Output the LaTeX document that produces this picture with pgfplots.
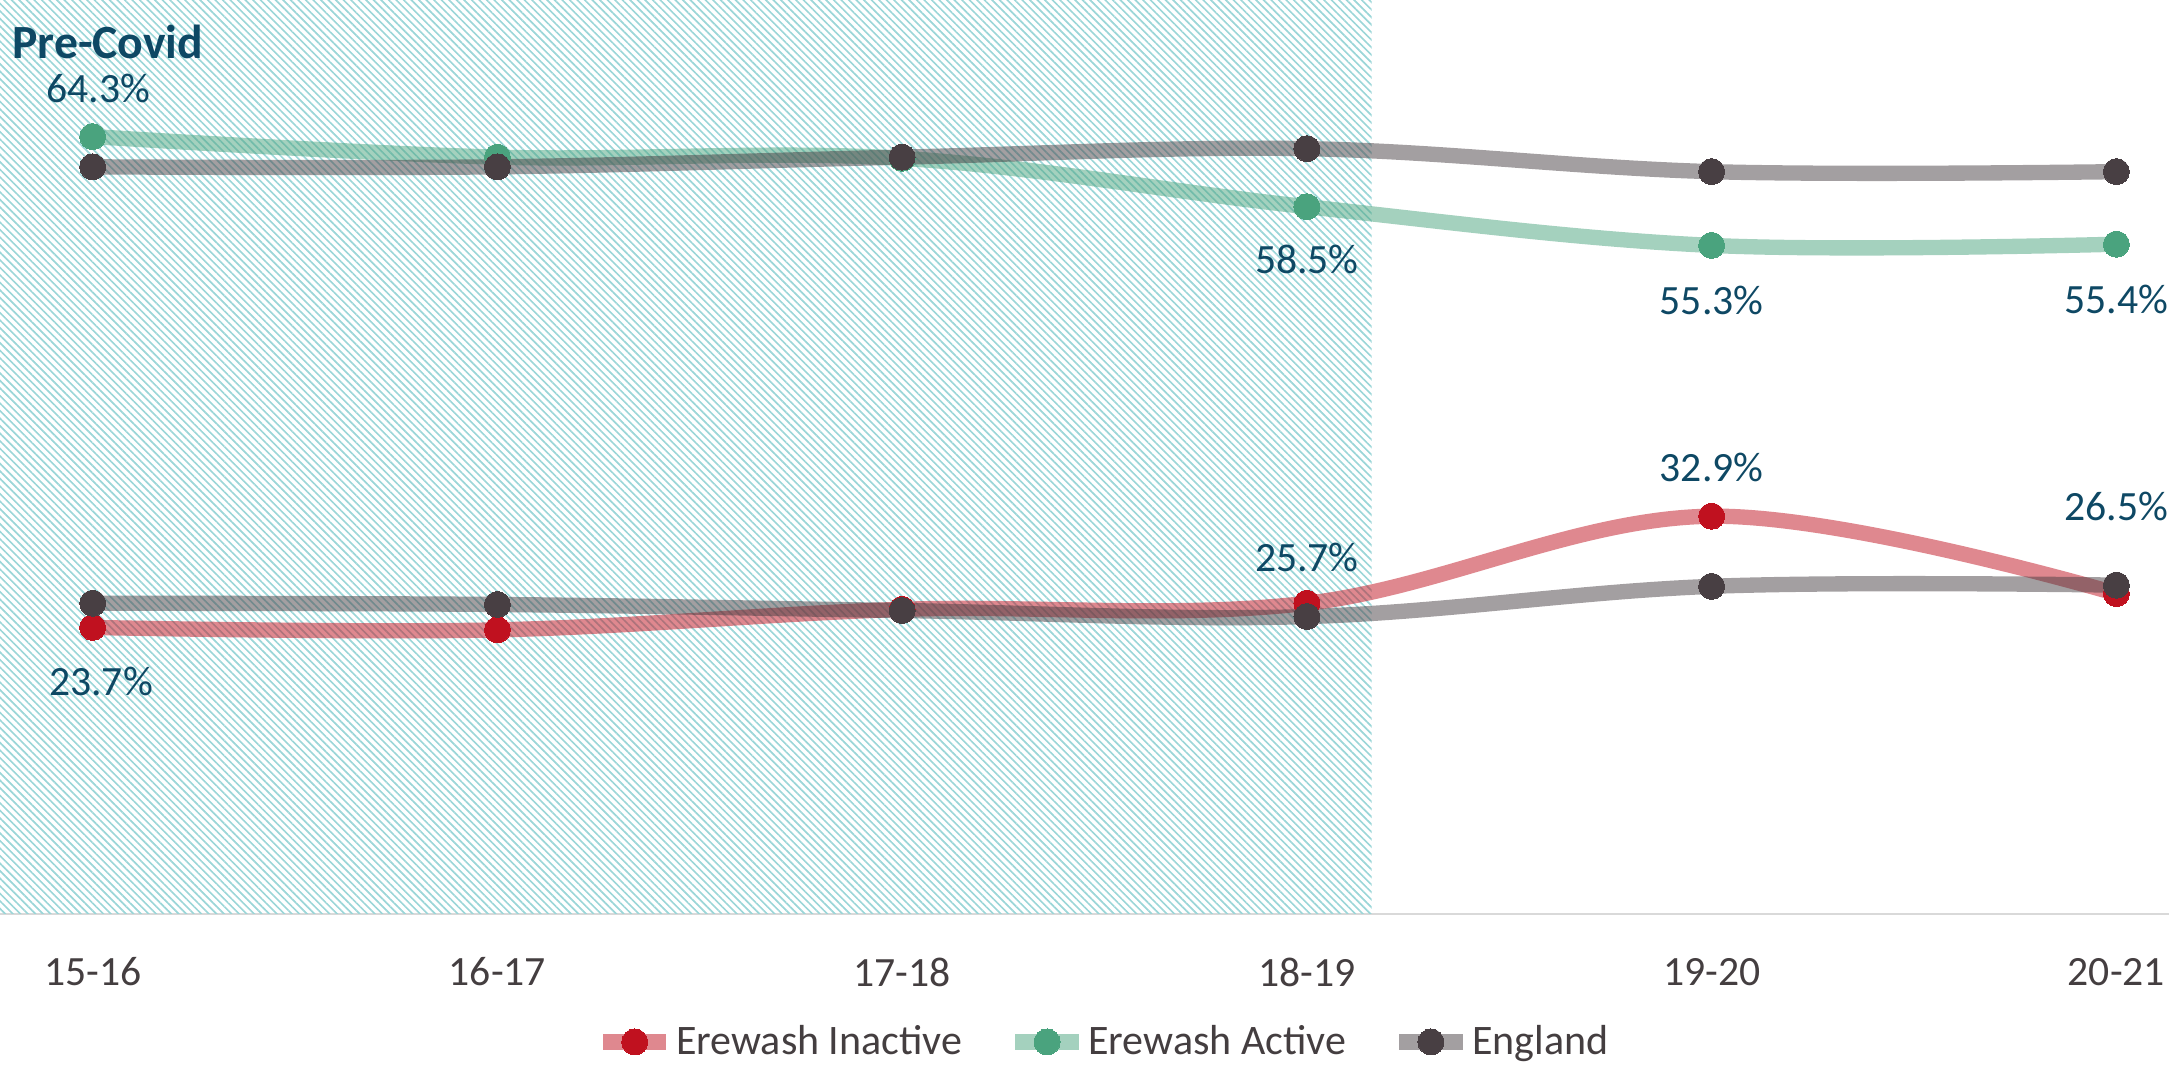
\documentclass[border=0pt]{standalone}
\usepackage{pgfplots}
\pgfplotsset{compat=1.18}
\usepackage{fontspec}
\setmainfont{Carlito}
\usetikzlibrary{patterns.meta}

\definecolor{redM}{RGB}{192,17,31}
\definecolor{greenM}{RGB}{74,163,126}
\definecolor{greyM}{RGB}{72,63,67}
\definecolor{lblcol}{RGB}{14,72,100}
\definecolor{tickcol}{RGB}{68,62,64}
\definecolor{axiscol}{RGB}{217,217,217}
\definecolor{hatchcol}{RGB}{155,214,216}

\begin{document}
\begin{tikzpicture}
\begin{axis}[
  at={(0,0)}, anchor=south west,
  scale only axis,
  width=650.7pt, height=274.2pt,
  xmin=-0.229, xmax=5.13,
  ymin=0, ymax=75.6,
  clip=false,
  axis x line=bottom, axis y line=none,
  x axis line style={-, draw=axiscol, line width=0.8pt},
  xtick={0,1,2,3,4,5},
  xticklabels={15-16,16-17,17-18,18-19,19-20,20-21},
  major tick length=0pt,
  xticklabel style={anchor=center, yshift=-17.4pt, text=tickcol,
    font=\fontsize{12.5}{14}\selectfont},
  legend columns=3,
  legend style={at={(0.5085,-0.14)}, anchor=center, draw=none, fill=none,
    text=tickcol, font=\fontsize{12.6}{14}\selectfont,
    /tikz/every even column/.append style={column sep=13pt},
    inner sep=0pt, nodes={inner sep=0.6pt}},
  legend image code/.code={%
    \draw[mark repeat=2, mark phase=2] plot coordinates {(0pt,0pt) (9.5pt,0pt) (19pt,0pt)};},
  every axis plot/.append style={smooth, tension=0.6, line width=4.6pt, opacity=0.5,
    mark=*, mark size=3.9pt},
]

% Pre-Covid period shading
\fill[pattern={Lines[angle=-45, distance=1.6pt, line width=0.5pt]}, pattern color=hatchcol]
  (axis cs:-0.229,0) rectangle (axis cs:3.16,75.6);

% Erewash inactive
\addplot[color=redM, mark options={opacity=1, draw=none, fill=redM, line width=0pt}]
  coordinates {(0,23.7) (1,23.5) (2,25.2) (3,25.7) (4,32.9) (5,26.5)};
\addlegendentry{Erewash Inactive}

% Erewash active
\addplot[color=greenM, mark options={opacity=1, draw=none, fill=greenM, line width=0pt}]
  coordinates {(0,64.3) (1,62.6) (2,62.5) (3,58.5) (4,55.3) (5,55.4)};
\addlegendentry{Erewash Active}

% England inactive
\addplot[color=greyM, forget plot, mark options={opacity=1, draw=none, fill=greyM, line width=0pt}]
  coordinates {(0,25.7) (1,25.6) (2,25.1) (3,24.6) (4,27.1) (5,27.2)};

% England active
\addplot[color=greyM, mark options={opacity=1, draw=none, fill=greyM, line width=0pt}]
  coordinates {(0,61.8) (1,61.8) (2,62.6) (3,63.3) (4,61.4) (5,61.4)};
\addlegendentry{England}

% value labels
\tikzset{lbl/.style={anchor=center, text=lblcol, font=\fontsize{12.5}{14}\selectfont, inner sep=0pt}}
\node[lbl, xshift=1.7pt, yshift=14.5pt] at (axis cs:0,64.3) {64.3\%};
\node[lbl, yshift=-15.8pt] at (axis cs:3,58.5) {58.5\%};
\node[lbl, yshift=-16.6pt] at (axis cs:4,55.3) {55.3\%};
\node[lbl, yshift=-16.6pt] at (axis cs:5,55.4) {55.4\%};
\node[lbl, xshift=2.5pt, yshift=-16.2pt] at (axis cs:0,23.7) {23.7\%};
\node[lbl, yshift=13.7pt] at (axis cs:3,25.7) {25.7\%};
\node[lbl, yshift=14.5pt] at (axis cs:4,32.9) {32.9\%};
\node[lbl, yshift=26pt] at (axis cs:5,26.5) {26.5\%};

\node[anchor=west, text=lblcol, font=\fontsize{14.3}{16}\selectfont\bfseries, inner sep=0pt]
  at ([xshift=3.5pt, yshift=-12.5pt]rel axis cs:0,1) {Pre-Covid};
\end{axis}
\pgfresetboundingbox
\path (0,-45.9pt) rectangle (650.7pt,274.2pt);
\end{tikzpicture}
\end{document}
